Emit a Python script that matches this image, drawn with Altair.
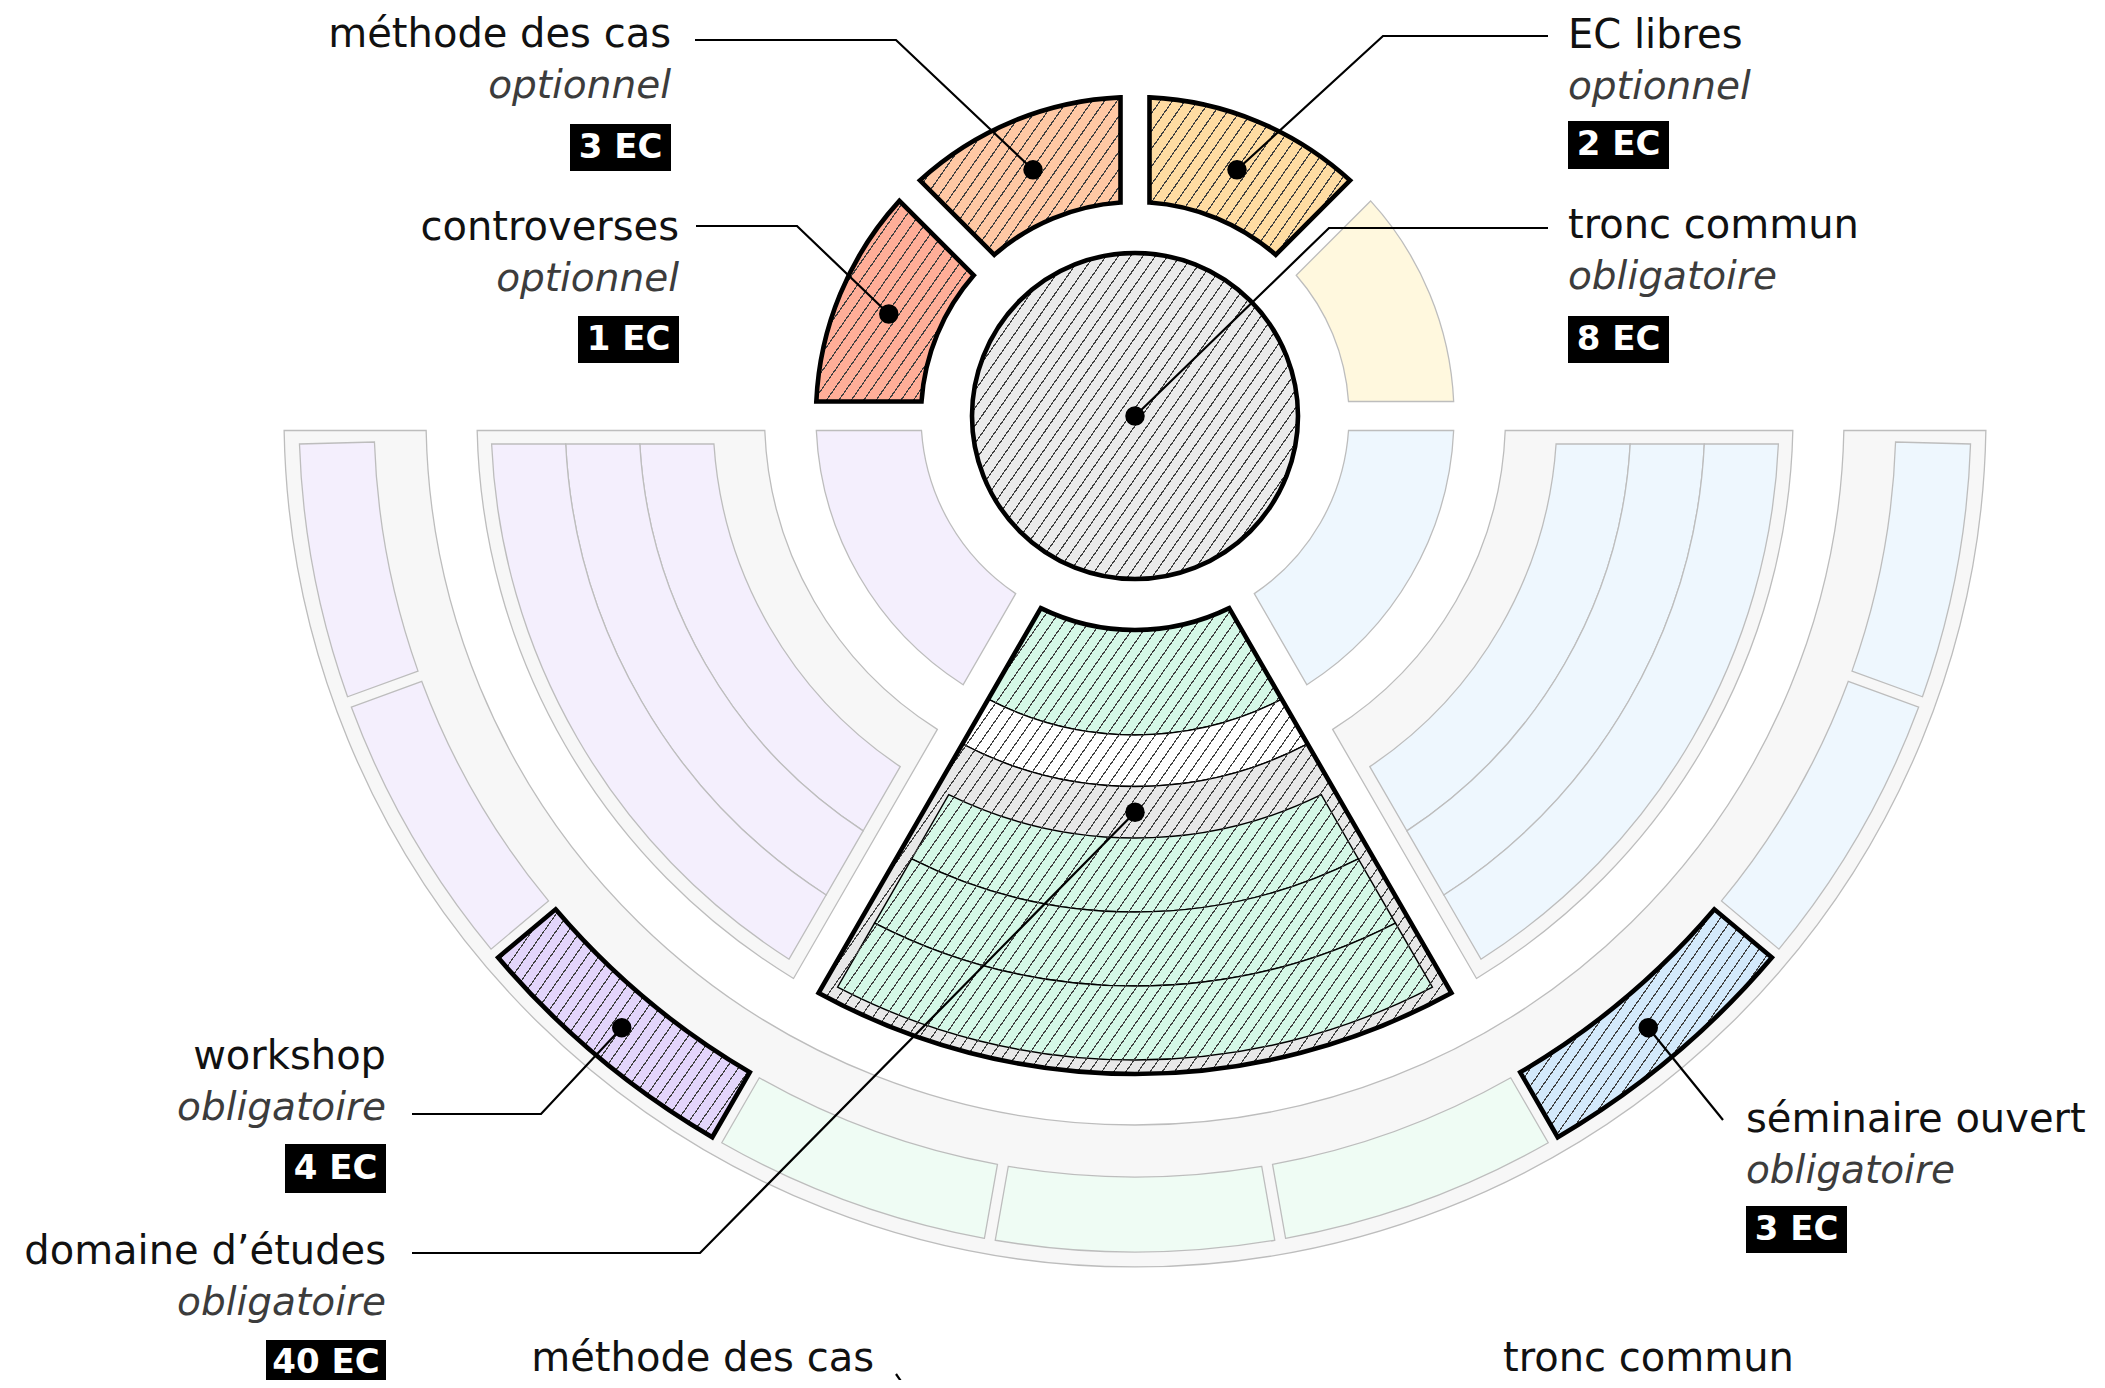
import math
import altair as alt
import pandas as pd

# ---------------------------------------------------------------- data
label_names = ["méthode des cas", "controverses", "EC libres", "tronc commun",
               "workshop", "domaine d’études", "séminaire ouvert"]
label_status = ["optionnel", "optionnel", "optionnel", "obligatoire",
                "obligatoire", "obligatoire", "obligatoire"]
label_credits = ["3 EC", "1 EC", "2 EC", "8 EC", "4 EC", "40 EC", "3 EC"]

# inner ring: angles in degrees, clockwise from 12 o'clock
ring_start = [270, 315, 0, 45, 90, 210]
ring_end = [315, 360, 45, 90, 150, 270]
ring_family = ["controverses", "méthode des cas", "EC libres", "libres", "bleu", "violet"]
ring_selected = [True, True, True, False, False, False]

# middle band: three sectors of the lower half
band_start = [210, 150, 90]
band_end = [270, 210, 150]
band_family = ["violet", "vert", "bleu"]
band_selected = [False, True, False]
band_strips = 3

# outer ring
outer_start = [250, 230, 210, 190, 170, 150, 130, 110, 90]
outer_end = [270, 250, 230, 210, 190, 170, 150, 130, 110]
outer_family = ["violet", "violet", "workshop", "vert", "vert", "vert",
                "séminaire ouvert", "bleu", "bleu"]
outer_selected = [False, False, True, False, False, False, True, False, False]

# following diagram, cut by the bottom of the picture
next_names = ["méthode des cas", "tronc commun"]

# ---------------------------------------------------------------- layout / style
W, H = 2089, 1372
OX, OY = 8, 8
CX, CY = 1135, 416
R_CORE = 163
R_RING = (214, 319)
R_BAND = (370.5, 658)
R_BAND_STRIP = [(422, 496), (496, 570), (570, 644)]
R_OUTER = (709, 851)
R_OUTER_STRIP = (761, 836)
GAP = 14.5
STRIP_GAP = 5.5
STRIP_END = 27
BAND_STRIP_GAP = 28

FILL = {"controverses": "#FFAE98", "méthode des cas": "#FFC8A4", "EC libres": "#FFDCA2",
        "libres": "#FFF8DE", "bleu": "#EEF7FE", "violet": "#F4EFFD", "vert": "#EFFCF4",
        "workshop": "#E3D5FB", "séminaire ouvert": "#D3E9FB", "tronc commun": "#EBEBEB",
        "vert_sel": "#D5F8E7", "frame": "#F7F7F7", "frame_sel": "#E8E8E8"}
FAINT = "#BDBDBD"
FONT = "DejaVu Sans"
BOLD_W = 4.6

XS = alt.Scale(domain=[OX, OX + W], range=[0, W], nice=False, zero=False)
YS = alt.Scale(domain=[OY, OY + H], range=[0, H], nice=False, zero=False)
TS = alt.Scale(type="linear", domain=[0, 360], range=[0, 2 * math.pi])
RS = alt.Scale(type="linear", domain=[0, 1000], range=[0, 1000])


def pad(h, r0, r1):
    return 2 * math.asin(h / math.sqrt(r0 * r0 + r1 * r1))


def polar(theta, r):
    a = math.radians(theta)
    return CX + r * math.sin(a), CY - r * math.cos(a)


def bbox(t0, t1, r0, r1, h):
    pts = []
    if r0 == 0:
        pts.append((CX, CY))
    for r in [r for r in (r0, r1) if r > 0]:
        p = math.degrees(math.asin(min(1.0, h / r))) if h > 0 else 0.0
        a0, a1 = t0 + p, t1 - p
        for i in range(241):
            pts.append(polar(a0 + (a1 - a0) * i / 240, r))
    xs = [p[0] for p in pts]
    ys = [p[1] for p in pts]
    return min(xs), min(ys), max(xs), max(ys)


def hatch(t0, t1, r0, r1, h, bg="rgba(0,0,0,0)", line="#404040", s=10.0, lw=1.15, phi=55):
    """Striped linear gradient giving '/' hatching at angle phi, spacing s (px)."""
    x0, y0, x1, y1 = bbox(t0, t1, r0, r1, h)
    w, hh = x1 - x0, y1 - y0
    sp, cp = math.sin(math.radians(phi)), math.cos(math.radians(phi))
    span = w * sp + hh * cp
    k = span / (w * sp * sp / hh + hh * cp * cp / w)
    n = max(1, round(span / s))
    f = lw / s / n
    stops = []
    for i in range(n):
        a = i / n
        b = a + f
        e = (i + 1) / n
        stops += [{"color": line, "offset": round(a, 6)},
                  {"color": line, "offset": round(b, 6)},
                  {"color": bg, "offset": round(b, 6)},
                  {"color": bg, "offset": round(e, 6)}]
    return {"gradient": "linear", "x1": 0, "y1": 0,
            "x2": round(k * sp / hh, 5), "y2": round(k * cp / w, 5), "stops": stops}


def arc_df(rows):
    df = pd.DataFrame(rows)
    df["cx"] = CX
    df["cy"] = CY
    return df


def arcs(df, h=0.0, **mk):
    r0, r1 = float(df.r0.iloc[0]), float(df.r1.iloc[0])
    p = pad(h, r0, r1) if h > 0 else 0.0
    enc = dict(
        x=alt.X("cx:Q", scale=XS, axis=None),
        y=alt.Y("cy:Q", scale=YS, axis=None),
        theta=alt.Theta("t0:Q", scale=TS, stack=False),
        theta2=alt.Theta2("t1:Q"),
        radius=alt.Radius("r1:Q", scale=RS),
        radius2=alt.Radius2("r0:Q"),
    )
    if "fill" not in mk:
        enc["fill"] = alt.Fill("fill:N", scale=None, legend=None)
    return alt.Chart(df).mark_arc(padAngle=p, **mk).encode(**enc)


layers = []
faint = dict(stroke=FAINT, strokeWidth=1.3)

# outer frame (whole lower half)
layers.append(arcs(arc_df([{"t0": 90, "t1": 270, "r0": R_OUTER[0], "r1": R_OUTER[1],
                            "fill": FILL["frame"]}]), GAP, **faint))

# outer strips (not selected)
d_end = math.degrees((STRIP_END - STRIP_GAP) / ((R_OUTER_STRIP[0] + R_OUTER_STRIP[1]) / 2))
rows = []
for s, e, fam, sel in zip(outer_start, outer_end, outer_family, outer_selected):
    if sel:
        continue
    rows.append({"t0": s + (d_end if s == 90 else 0), "t1": e - (d_end if e == 270 else 0),
                 "r0": R_OUTER_STRIP[0], "r1": R_OUTER_STRIP[1], "fill": FILL[fam]})
layers.append(arcs(arc_df(rows), STRIP_GAP, **faint))

# middle band frames and strips (not selected)
rows = [{"t0": s, "t1": e, "r0": R_BAND[0], "r1": R_BAND[1], "fill": FILL["frame"]}
        for s, e, sel in zip(band_start, band_end, band_selected) if not sel]
layers.append(arcs(arc_df(rows), GAP, **faint))
for k in range(band_strips):
    rr = R_BAND_STRIP[k]
    rows = [{"t0": s, "t1": e, "r0": rr[0], "r1": rr[1], "fill": FILL[f]}
            for s, e, f, sel in zip(band_start, band_end, band_family, band_selected) if not sel]
    layers.append(arcs(arc_df(rows), BAND_STRIP_GAP, **faint))

# inner ring (not selected)
rows = [{"t0": s, "t1": e, "r0": R_RING[0], "r1": R_RING[1], "fill": FILL[f]}
        for s, e, f, sel in zip(ring_start, ring_end, ring_family, ring_selected) if not sel]
layers.append(arcs(arc_df(rows), GAP, **faint))

# selected lower sector: domaine d'études
for s, e, sel in zip(band_start, band_end, band_selected):
    if not sel:
        continue
    thin = dict(stroke="black", strokeWidth=1.4)
    layers.append(arcs(arc_df([{"t0": s, "t1": e, "r0": R_RING[0], "r1": R_RING[1],
                                "fill": FILL["vert_sel"]}]), GAP, **thin))
    layers.append(arcs(arc_df([{"t0": s, "t1": e, "r0": R_RING[1], "r1": R_BAND[0],
                                "fill": "white"}]), GAP, **thin))
    layers.append(arcs(arc_df([{"t0": s, "t1": e, "r0": R_BAND[0], "r1": R_BAND[1],
                                "fill": FILL["frame_sel"]}]), GAP, **thin))
    for rr in R_BAND_STRIP:
        layers.append(arcs(arc_df([{"t0": s, "t1": e, "r0": rr[0], "r1": rr[1],
                                    "fill": FILL["vert_sel"]}]), BAND_STRIP_GAP, **thin))
    wedge = arc_df([{"t0": s, "t1": e, "r0": R_RING[0], "r1": R_BAND[1]}])
    layers.append(arcs(wedge, GAP, fill=hatch(s, e, R_RING[0], R_BAND[1], GAP), strokeWidth=0))
    layers.append(arcs(wedge, GAP, fill="white", fillOpacity=0, stroke="black",
                       strokeWidth=BOLD_W))

# selected pieces, hatched
sel_pieces = []
for s, e, f, sel in zip(ring_start, ring_end, ring_family, ring_selected):
    if sel:
        sel_pieces.append((s, e, R_RING[0], R_RING[1], GAP, FILL[f]))
for s, e, f, sel in zip(outer_start, outer_end, outer_family, outer_selected):
    if sel:
        sel_pieces.append((s, e, R_OUTER_STRIP[0], R_OUTER_STRIP[1], STRIP_GAP, FILL[f]))
sel_pieces.append((0, 360, 0, R_CORE, 0.0, FILL["tronc commun"]))
for s, e, r0, r1, h, col in sel_pieces:
    df = arc_df([{"t0": s, "t1": e, "r0": r0, "r1": r1}])
    layers.append(arcs(df, h, fill=hatch(s, e, r0, r1, h, bg=col),
                       stroke="black", strokeWidth=BOLD_W))

# ---------------------------------------------------------------- labels
mid_ring = (R_RING[0] + R_RING[1]) / 2
mid_outer = (R_OUTER_STRIP[0] + R_OUTER_STRIP[1]) / 2
LAB = {
    "méthode des cas": dict(align="right", x=671, y=35, badge=(124, 171),
                            dot=polar(337.5, mid_ring), leader=[(695, 40), (896, 40)]),
    "controverses": dict(align="right", x=679, y=228, badge=(316, 363),
                         dot=polar(292.5, mid_ring), leader=[(696, 226), (797, 226)]),
    "EC libres": dict(align="left", x=1568, y=36, badge=(121, 169),
                      dot=polar(22.5, mid_ring), leader=[(1548, 36), (1383, 36)]),
    "tronc commun": dict(align="left", x=1568, y=226, badge=(316, 363),
                         dot=(CX, CY), leader=[(1548, 228), (1329, 228)]),
    "workshop": dict(align="right", x=386, y=1057, badge=(1144, 1193),
                     dot=polar(220, mid_outer), leader=[(412, 1114), (541, 1114)]),
    "domaine d’études": dict(align="right", x=386, y=1252, badge=(1340, 1386),
                             dot=polar(180, (R_BAND[0] + R_BAND_STRIP[0][0]) / 2),
                             leader=[(412, 1253), (700, 1253)]),
    "séminaire ouvert": dict(align="left", x=1746, y=1120, badge=(1206, 1253),
                             dot=polar(140, mid_outer), leader=[(1723, 1120)]),
}
STATUS_DY = 51

lead_rows, dot_rows, text_rows, badge_rows = [], [], [], []
for name, status, cred in zip(label_names, label_status, label_credits):
    L = LAB[name]
    pts = L["leader"] + [L["dot"]]
    for o, (px, py) in enumerate(pts):
        lead_rows.append({"id": name, "o": o, "x": px, "y": py})
    dot_rows.append({"x": L["dot"][0], "y": L["dot"][1]})
    text_rows.append({"align": L["align"], "x": L["x"], "y": L["y"], "name": name,
                      "ys": L["y"] + STATUS_DY, "status": status})
    bw = 25 + 19 * len(cred)
    bx0 = L["x"] - bw if L["align"] == "right" else L["x"]
    badge_rows.append({"x0": bx0, "x1": bx0 + bw, "y0": L["badge"][0], "y1": L["badge"][1],
                       "xc": bx0 + bw / 2, "yc": (L["badge"][0] + L["badge"][1]) / 2,
                       "cred": cred})

# next diagram labels (cut off)
next_rows = [{"align": "right", "x": 874, "y": 1359, "name": next_names[0]},
             {"align": "left", "x": 1503, "y": 1359, "name": next_names[1]}]
lead_rows += [{"id": "next", "o": 0, "x": 896, "y": 1374},
              {"id": "next", "o": 1, "x": 914, "y": 1400}]

leads = pd.DataFrame(lead_rows)
layers.append(alt.Chart(leads).mark_line(color="black", strokeWidth=2.2).encode(
    x=alt.X("x:Q", scale=XS, axis=None), y=alt.Y("y:Q", scale=YS, axis=None),
    detail="id:N", order="o:Q"))
layers.append(alt.Chart(pd.DataFrame(dot_rows)).mark_circle(size=380, color="black", opacity=1).encode(
    x=alt.X("x:Q", scale=XS, axis=None), y=alt.Y("y:Q", scale=YS, axis=None)))

texts = pd.DataFrame(text_rows)
nexts = pd.DataFrame(next_rows)
for al in ("right", "left"):
    t = texts[texts["align"] == al]
    n = nexts[nexts["align"] == al]
    layers.append(alt.Chart(pd.concat([t, n])).mark_text(
        font=FONT, fontSize=40, align=al, baseline="middle", color="#111111").encode(
        x=alt.X("x:Q", scale=XS, axis=None), y=alt.Y("y:Q", scale=YS, axis=None), text="name:N"))
    layers.append(alt.Chart(t).mark_text(
        font=FONT, fontSize=39, fontStyle="italic", align=al, baseline="middle",
        color="#3c3c3c").encode(
        x=alt.X("x:Q", scale=XS, axis=None), y=alt.Y("ys:Q", scale=YS, axis=None), text="status:N"))

badges = pd.DataFrame(badge_rows)
layers.append(alt.Chart(badges).mark_rect(color="black").encode(
    x=alt.X("x0:Q", scale=XS, axis=None), x2="x1:Q",
    y=alt.Y("y0:Q", scale=YS, axis=None), y2="y1:Q"))
layers.append(alt.Chart(badges).mark_text(
    font=FONT, fontSize=34, fontWeight="bold", color="white", align="center",
    baseline="middle").encode(
    x=alt.X("xc:Q", scale=XS, axis=None), y=alt.Y("yc:Q", scale=YS, axis=None), text="cred:N"))

chart = alt.layer(*layers).properties(
    width=W, height=H, padding=0, background="white",
    autosize=alt.AutoSizeParams(type="none"),
).configure_view(stroke=None)

chart.save("out.html", embed_options={"renderer": "svg", "actions": False})
